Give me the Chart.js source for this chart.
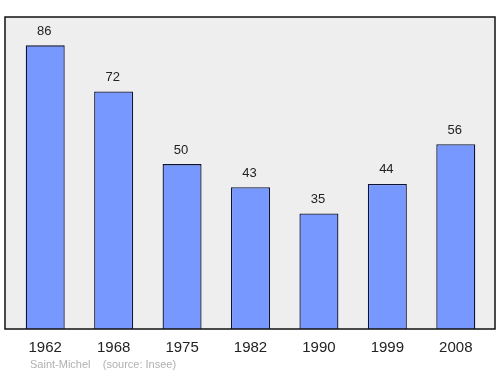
<!DOCTYPE html>
<html><head><meta charset="utf-8">
<script src="https://cdn.jsdelivr.net/npm/chart.js@4/dist/chart.umd.min.js"></script>
<style>html,body{margin:0;padding:0;background:#fff}#w{width:500px;height:374px}</style>
</head><body><div id="w"><canvas id="c" width="500" height="374"></canvas></div>
<script>
const years = ["1962","1968","1975","1982","1990","1999","2008"];
const population = [86,72,50,43,35,44,56];
const footerText = "Saint-Michel    (source: Insee)";

const framePlugin = {
  id:'frame',
  beforeDraw(chart){
    const {ctx, chartArea:a} = chart;
    ctx.save();
    ctx.fillStyle = '#eeeeee';
    ctx.fillRect(a.left-6, a.top, a.right-a.left+11, a.bottom-a.top);
    ctx.restore();
  },
  afterDatasetsDraw(chart){
    const {ctx, chartArea:a} = chart;
    ctx.save();
    ctx.strokeStyle = '#111';
    ctx.lineWidth = 1.5;
    ctx.strokeRect(a.left-6, a.top, a.right-a.left+11, a.bottom-a.top);
    const meta = chart.getDatasetMeta(0);
    ctx.font = '13px "Liberation Sans", Arial, sans-serif';
    ctx.fillStyle = '#222';
    ctx.textAlign = 'center';
    ctx.textBaseline = 'middle';
    meta.data.forEach((bar,i)=>{
      ctx.fillText(String(population[i]), bar.x - 1, bar.y-14);
    });
    ctx.font = '11px "Liberation Sans", Arial, sans-serif';
    ctx.fillStyle = '#b0b0b0';
    ctx.textAlign = 'left';
    ctx.fillText(footerText, 30, a.bottom+36);
    ctx.restore();
  }
};

new Chart(document.getElementById('c'), {
  type:'bar',
  data:{labels:years, datasets:[{data:population, backgroundColor:'#7799ff', borderColor:'#0c1238', borderWidth:1.3, barPercentage:0.57, categoryPercentage:1}]},
  options:{
    responsive:false, animation:false, devicePixelRatio:1,
    layout:{padding:{left:11,right:10,top:17,bottom:0}},
    plugins:{legend:{display:false}, tooltip:{enabled:false}},
    scales:{
      x:{grid:{display:false}, border:{display:false},
         ticks:{padding:2, color:'#222', font:{family:'"Liberation Sans", Arial, sans-serif', size:15}},
         afterFit(s){ s.height = 45; }},
      y:{display:false, min:0, max:94.6}
    }
  },
  plugins:[framePlugin]
});
</script></body></html>
